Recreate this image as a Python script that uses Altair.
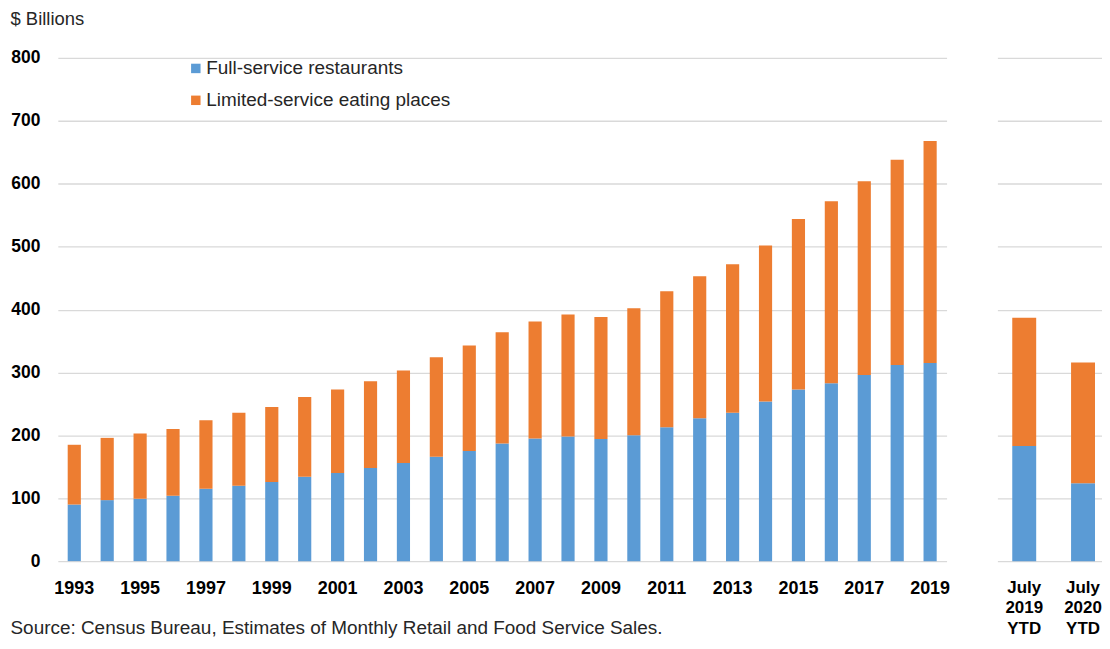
import altair as alt
import pandas as pd

FONT = "Liberation Sans"

years = [str(y) for y in range(1993, 2020)]
full_service = [90, 97, 99, 104, 115, 120, 126, 134, 140, 148, 156, 166, 175, 187,
                195, 198, 194, 200, 213, 227, 236, 254, 273, 283, 296, 312, 315]
limited_service = [95, 99, 104, 106, 109, 116, 119, 127, 133, 138, 147, 158, 168, 177,
                   186, 194, 194, 202, 216, 226, 236, 248, 271, 289, 308, 326, 353]

ytd_labels = ["July 2019 YTD", "July 2020 YTD"]
ytd_full = [183, 124]
ytd_limited = [204, 192]

series = ["Full-service restaurants", "Limited-service eating places"]
colors = ["#5B9BD5", "#ED7D31"]
label_years = [str(y) for y in range(1993, 2020, 2)]


def long_df(cats, full, limited):
    rows = []
    for c, f, l in zip(cats, full, limited):
        rows.append({"cat": c, "series": series[0], "value": f, "ord": 0})
        rows.append({"cat": c, "series": series[1], "value": l, "ord": 1})
    return pd.DataFrame(rows)


df_years = long_df(years, full_service, limited_service)
df_ytd = long_df(ytd_labels, ytd_full, ytd_limited)

yscale = alt.Scale(domain=[0, 800], nice=False)
color = alt.Color(
    "series:N",
    scale=alt.Scale(domain=series, range=colors),
    legend=alt.Legend(
        orient="none", legendX=129, legendY=1, title=None,
        symbolType="square", symbolSize=90, symbolStrokeWidth=0,
        labelFont=FONT, labelFontSize=19, labelColor="#262626", labelLimit=0,
        rowPadding=12, labelOffset=1, padding=0,
    ),
)

left = alt.Chart(df_years).mark_bar().encode(
    x=alt.X(
        "cat:N", sort=years,
        scale=alt.Scale(paddingInner=0.6, paddingOuter=0.3),
        axis=alt.Axis(
            values=label_years, labelAngle=0, labelFont=FONT, labelFontSize=18,
            labelFontWeight="bold", labelColor="#000000", labelPadding=18,
            ticks=False, domain=False,
            title="Source: Census Bureau, Estimates of Monthly Retail and Food Service Sales.",
            titleFont=FONT, titleFontSize=19, titleFontWeight="normal",
            titleColor="#262626", titleX=-48, titleY=67, titleAlign="left",
            titleBaseline="middle", titleAnchor="start",
        ),
    ),
    y=alt.Y(
        "value:Q", stack="zero", scale=yscale,
        axis=alt.Axis(
            values=list(range(0, 801, 100)), format="d", labelFont=FONT,
            labelFontSize=17.5, labelFontWeight="bold", labelColor="#000000",
            labelPadding=18, ticks=False, domain=False,
            gridColor="#d9d9d9", gridWidth=1.3,
            title="$ Billions", titleFont=FONT, titleFontSize=18.5,
            titleFontWeight="normal", titleColor="#262626", titleAngle=0,
            titleX=-48, titleY=-40, titleAlign="left", titleBaseline="middle",
        ),
    ),
    color=color,
    order=alt.Order("ord:Q", sort="ascending"),
).properties(width=892, height=505)

right = alt.Chart(df_ytd).mark_bar().encode(
    x=alt.X(
        "cat:N", sort=ytd_labels,
        scale=alt.Scale(paddingInner=0.593, paddingOuter=0.186, align=0.68),
        axis=alt.Axis(
            labelAngle=0, labelFont=FONT, labelFontSize=17, labelFontWeight="bold",
            labelColor="#000000", labelPadding=18, labelLineHeight=21,
            labelExpr="split(datum.label, ' ')", ticks=False, domain=False,
            title=None,
        ),
    ),
    y=alt.Y(
        "value:Q", stack="zero", scale=yscale,
        axis=alt.Axis(
            values=list(range(0, 801, 100)), labels=False, ticks=False,
            domain=False, gridColor="#d9d9d9", gridWidth=1.3, title=None,
        ),
    ),
    color=color,
    order=alt.Order("ord:Q", sort="ascending"),
).properties(width=105, height=505)

chart = alt.hconcat(left, right, spacing=47).properties(
    padding={"left": 2, "top": 0, "right": 0, "bottom": 0},
    background="white",
).configure_view(stroke=None)

chart.save("out.html", embed_options={"renderer": "svg", "actions": False})
